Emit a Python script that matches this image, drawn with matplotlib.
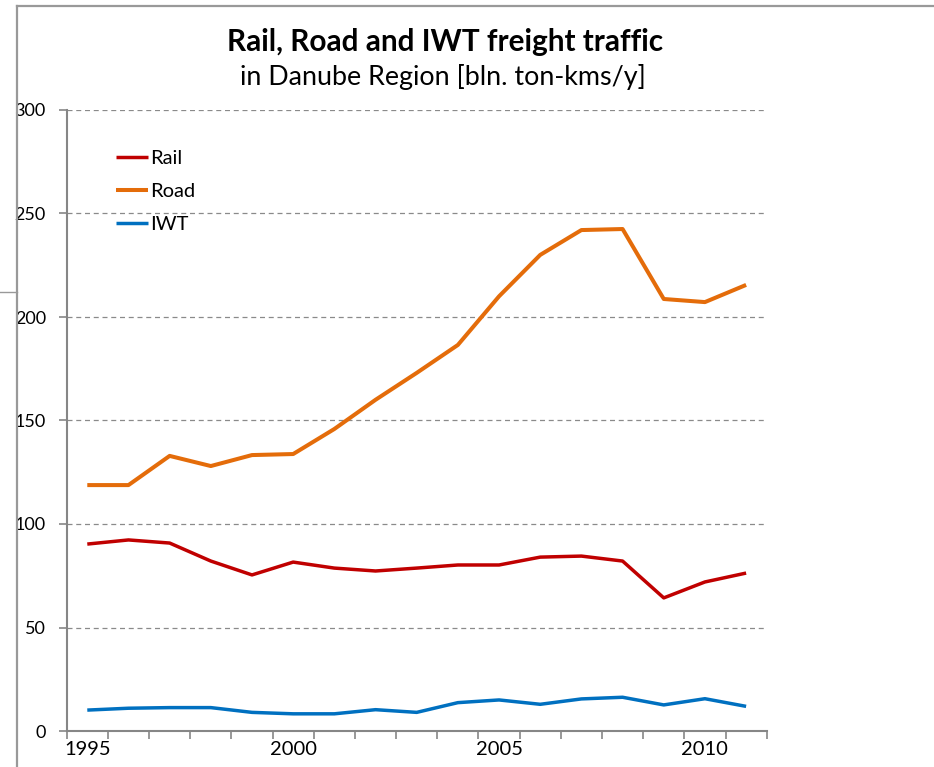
import matplotlib
matplotlib.use("Agg")
import matplotlib.pyplot as plt
from matplotlib.lines import Line2D
import numpy as np

years = list(range(1995, 2012))
rail = [90.3, 92.3, 90.8, 82.1, 75.4, 81.6, 78.7, 77.3, 78.7, 80.2, 80.2, 84.0, 84.5, 82.1, 64.3, 72.0, 76.3]
road = [118.8, 118.8, 132.9, 128.0, 133.3, 133.8, 145.9, 160.0, 173.0, 186.5, 210.0, 230.0, 242.0, 242.5, 208.7, 207.2, 215.5]
iwt = [10.1, 11.0, 11.3, 11.3, 9.0, 8.3, 8.3, 10.3, 9.0, 13.7, 15.0, 12.9, 15.5, 16.3, 12.6, 15.6, 11.9]
series_names = ["Rail", "Road", "IWT"]
series_colors = ["#C00000", "#E46C0A", "#0070C0"]
yticks = [0, 50, 100, 150, 200, 250, 300]
xlabel_years = [1995, 2000, 2005, 2010]

plt.rcParams['font.family'] = ['Lato', 'DejaVu Sans']

W, H = 934, 767
fig = plt.figure(figsize=(W / 100, H / 100), dpi=100)
ax = fig.add_axes([66.7 / W, 1 - 731 / H, 700 / W, 621 / H])

x = np.arange(len(years))
for vals, name, col, lw in zip([rail, road, iwt], series_names, series_colors, [2.5, 2.9, 2.5]):
    ax.plot(x, vals, color=col, lw=lw, label=name, solid_capstyle='butt', solid_joinstyle='round')

ax.set_xlim(-0.5, len(years) - 0.5)
ax.set_ylim(0, 300)
ax.set_yticks(yticks)
ax.set_yticklabels([str(v) for v in yticks], fontsize=13)
ax.yaxis.grid(True, color='#8a8a8a', ls=(0, (4, 3)), lw=0.9)
ax.set_axisbelow(True)

ax.set_xticks([years.index(y) for y in xlabel_years])
ax.set_xticklabels([str(y) for y in xlabel_years], fontsize=14.5)
ax.set_xticks(np.arange(-0.5, len(years)), minor=True)
ax.tick_params(axis='x', which='major', length=0, pad=7)
ax.tick_params(axis='x', which='minor', length=6, width=1.2, color='#868686', direction='out')
ax.tick_params(axis='y', length=6, width=1.2, color='#868686', direction='out', pad=9)

for s in ['top', 'right']:
    ax.spines[s].set_visible(False)
for s in ['left', 'bottom']:
    ax.spines[s].set_color('#868686')
    ax.spines[s].set_linewidth(1.5)

leg = ax.legend(loc='upper left', bbox_to_anchor=(0.059, 0.949), frameon=False,
                fontsize=14.5, handlelength=1.6, handletextpad=0.1, labelspacing=0.8,
                borderaxespad=0)

fig.text(445 / W, 1 - 42 / H, "Rail, Road and IWT freight traffic", ha='center', va='center',
         fontsize=21.4, fontweight='bold')
fig.text(443 / W, 1 - 77 / H, "in Danube Region [bln. ton-kms/y]", ha='center', va='center',
         fontsize=19.4)

# outer frame fragments
fig.add_artist(Line2D([16.5 / W, 16.5 / W], [0, 1 - 5.5 / H], color='#999999', lw=1.6, transform=fig.transFigure))
fig.add_artist(Line2D([16.5 / W, 1], [1 - 5.5 / H, 1 - 5.5 / H], color='#999999', lw=1.6, transform=fig.transFigure))
fig.add_artist(Line2D([0, 16.5 / W], [1 - 292 / H, 1 - 292 / H], color='#999999', lw=1.0, transform=fig.transFigure))

fig.savefig("out.png", dpi=100)
